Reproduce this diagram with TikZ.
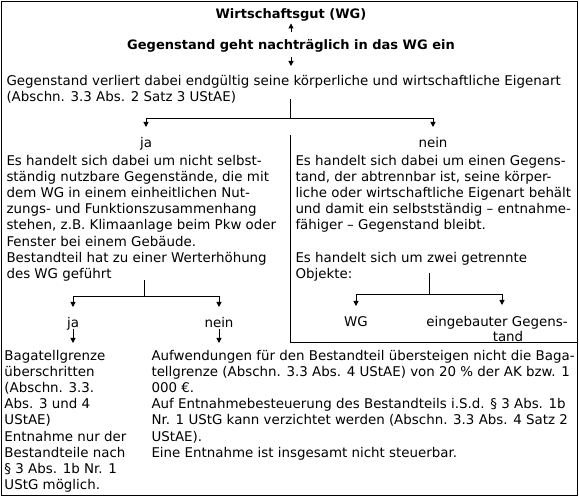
\documentclass[tikz,border=0pt]{standalone}
\usepackage{fontspec}
\setmainfont{DejaVu Sans}
\usetikzlibrary{arrows.meta}
\begin{document}
\begin{tikzpicture}[x=1pt,y=-1pt,line width=1pt]
    \tikzset{txt/.style=  {anchor=north west,
                           align=left,
                           inner xsep=0pt,
                           inner ysep=0pt,
                           font=\fontsize{13.4}{16.2}\selectfont},
             head/.style= {inner sep=0pt,
                           text height=9.5pt,
                           text depth=0.5pt,
                           font=\fontsize{13}{16.2}\selectfont\bfseries},
             lbl/.style=  {anchor=base,
                           inner sep=0pt,
                           text height=20pt,
                           text depth=1.5pt,
                           font=\fontsize{13.4}{16.2}\selectfont},
             pfeil/.style={-{Triangle[length=5pt,width=5pt]}},
            }
    \useasboundingbox (0,0) rectangle (579,497);
    \draw (1.5,1.5) rectangle (577,495.5);
    \path
    (291,14)      node[head,minimum height=18pt](wg) {Wirtschaftsgut (WG)}
    (291,45)      node[head,minimum height=24pt](geht) {Gegenstand geht nachträglich in das WG ein}
    (6,66)        node[txt,inner ysep=7.2pt](verl) {\strut Gegenstand verliert dabei endgültig seine körperliche und wirtschaftliche Eigenart\\
                   (Abschn. 3.3 Abs. 2 Satz 3 UStAE)}
    (146,147.5)   node[lbl](ja1) {ja}
    (433,147.5)   node[lbl](nein1) {nein}
    (6,153.2)     node[txt](txtja) {\strut Es handelt sich dabei um nicht selbst-\\
                   ständig nutzbare Gegenstände, die mit\\
                   dem WG in einem einheitlichen Nut-\\
                   zungs- und Funktionszusammenhang\\
                   stehen, z.B. Klimaanlage beim Pkw oder\\
                   Fenster bei einem Gebäude.\\
                   Bestandteil hat zu einer Werterhöhung\\
                   des WG geführt}
    (295,153.2)   node[txt](txtnein) {\strut Es handelt sich dabei um einen Gegens-\\
                   tand, der abtrennbar ist, seine körper-\\
                   liche oder wirtschaftliche Eigenart behält\\
                   und damit ein selbstständig – entnahme-\\
                   fähiger – Gegenstand bleibt.}
    (295,250.2)   node[txt](obj) {\strut Es handelt sich um zwei getrennte\\
                   Objekte:}
    (356,326.5)   node[lbl](wg2) {WG}
    (497,305)     node[txt,anchor=north,align=center,inner ysep=10.2pt,
                   font=\fontsize{13.4}{15}\selectfont](eing) {\strut eingebauter Gegens-\\\hspace*{22pt}tand}
    (73,327.5)    node[lbl](ja2) {ja}
    (219,327.5)   node[lbl](nein2) {nein}
    (4,343)       node[txt,inner ysep=5.2pt](baga) {\strut Bagatellgrenze\\
                   überschritten\\
                   (Abschn. 3.3.\\
                   Abs. 3 und 4\\
                   UStAE)\\
                   Entnahme nur der\\
                   Bestandteile nach\\
                   § 3 Abs. 1b Nr. 1\\
                   UStG möglich.}
    (151,343)     node[txt,inner ysep=5.2pt](aufw) {\strut Aufwendungen für den Bestandteil übersteigen nicht die Baga-\\
                   tellgrenze (Abschn. 3.3 Abs. 4 UStAE) von 20 \% der AK bzw. 1\\
                   000 €.\\
                   Auf Entnahmebesteuerung des Bestandteils i.S.d. § 3 Abs. 1b\\
                   Nr. 1 UStG kann verzichtet werden (Abschn. 3.3 Abs. 4 Satz 2\\
                   UStAE).\\
                   Eine Entnahme ist insgesamt nicht steuerbar.}
    ;
    % Verzweigungspunkte
    \coordinate (f1top) at (290,99);
    \coordinate (f1)    at (290,119);
    \coordinate (f2top) at (144,280);
    \coordinate (f2)    at (144,297);
    \coordinate (f3top) at (429,273);
    \coordinate (f3)    at (429,295);
    % Rahmen um den nein-Zweig
    \draw (290,135) |- (577,343);
    \draw[pfeil] (geht.north) -- (wg.south);
    \draw[pfeil] (geht.south) -- (geht.south |- verl.north);
    \draw        (f1top) -- (f1);
    \draw[pfeil] (f1) -| (ja1);
    \draw[pfeil] (f1) -| (nein1);
    \draw        (f2top) -- (f2);
    \draw[pfeil] (f2) -| (ja2);
    \draw[pfeil] (f2) -| (nein2);
    \draw        (f3top) -- (f3);
    \draw[pfeil] (f3) -| (wg2);
    \draw[pfeil] (f3) -| ([xshift=5pt]eing.north);
    \draw[pfeil] (ja2.south) -- (ja2.south |- baga.north);
    \draw[pfeil] (nein2.south) -- (nein2.south |- aufw.north);
\end{tikzpicture}
\end{document}
